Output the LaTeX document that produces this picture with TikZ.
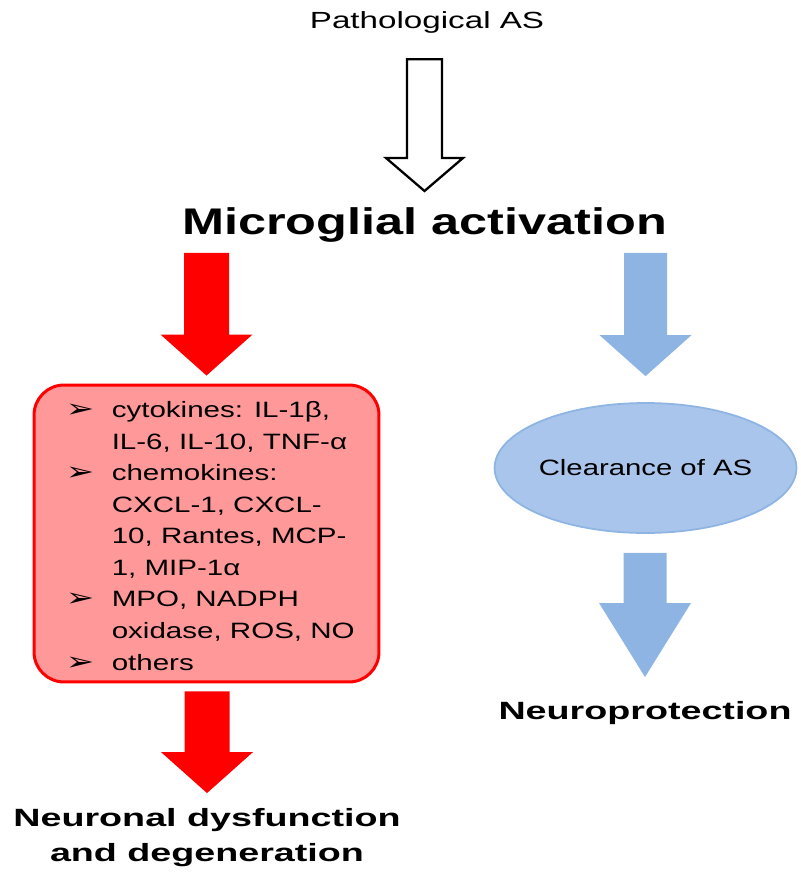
\documentclass[tikz,border=0pt]{standalone}
\usepackage{fontspec}
\setmainfont{Liberation Sans}
\newfontfamily\dingfont{DejaVu Sans}
\usepackage{graphicx}
\usetikzlibrary{calc, positioning, shapes.geometric}

\definecolor{boxred}{HTML}{FF9999}
\definecolor{arrowblue}{HTML}{8EB4E3}
\definecolor{ovalblue}{HTML}{A9C5EB}

\newcommand{\wide}[2]{\scalebox{#1}[1]{#2}}
\newcommand{\tip}{{\dingfont\fontsize{14.5}{14.5}\selectfont ➢}}

% style, from (y), to (x and tip), shaft half width, head half width, head length
\newcommand{\blockarrow}[6]{%
  \path [#1] let \p1 = (#2), \p2 = (#3) in
    (\x2-#4, \y1) -- (\x2-#4, \y2+#6) -- (\x2-#5, \y2+#6) -- (\x2, \y2)
    -- (\x2+#5, \y2+#6) -- (\x2+#4, \y2+#6) -- (\x2+#4, \y1) -- cycle;}

\tikzset{
  hollow/.style={draw=black, fill=white, line width=1.3pt, line join=miter},
  redarrow/.style={fill=red},
  bluearrow/.style={fill=arrowblue},
  boldlabel/.style={inner sep=0pt, font=\bfseries\fontsize{14.2}{19.8}\selectfont}
}

\begin{document}
\begin{tikzpicture}[x=0.02cm, y=0.02cm]
\useasboundingbox (0,0) rectangle (800,-884);

\node [inner sep=0pt, anchor=base, font=\fontsize{13.3}{16}\selectfont] (path) at (427,-28.5) {\wide{1.42}{Pathological AS}};

\node [inner sep=0pt, anchor=base, font=\bfseries\fontsize{21.1}{25}\selectfont] (micro) at (424.5,-235) {\wide{1.36}{Microglial activation}};

\node [draw=red, line width=1.7pt, fill=boxred, rounded corners=0.6cm, minimum width=6.9cm, minimum height=5.94cm, inner sep=0pt] (box) at (206.5,-533.5) {};

\node [inner sep=0pt, anchor=base west, font=\fontsize{12.64}{17.97}\selectfont] (list) at ($(box.north west)+(33,-34)$) {\wide{1.33}{%
	\begin{tabular}[t]{@{}p{0.69cm}@{}l@{}}
	\tip & cytokines: IL-1β, \\
	     & IL-6, IL-10, TNF-α \\
	\tip & chemokines: \\
	     & CXCL-1, CXCL- \\
	     & 10, Rantes, MCP- \\
	     & 1, MIP-1α \\
	\tip & MPO, NADPH \\
	     & oxidase, ROS, NO \\
	\tip & others
	\end{tabular}}};

\node [ellipse, draw=arrowblue, line width=1pt, fill=ovalblue, minimum width=5.34cm, minimum height=2.6cm, inner sep=0pt, font=\fontsize{12.64}{15}\selectfont] (clear) at (645.5,-468) {\wide{1.32}{Clearance of AS}};

\node [boldlabel, anchor=base] (prot) at (645,-719.3) {\wide{1.51}{Neuroprotection}};

\node [boldlabel, align=center] (dys) at (207,-837.5) {\wide{1.51}{Neuronal dysfunction} \\ \wide{1.51}{and degeneration}};

\blockarrow{hollow}{$(path.base)+(0,-30.7)$}{$(micro.base)+(0,44)$}{0.35cm}{0.77cm}{0.66cm}
\blockarrow{redarrow}{$(micro.base)+(0,-18)$}{$(box.north)+(0,8)$}{0.45cm}{0.92cm}{0.82cm}
\blockarrow{bluearrow}{$(micro.base)+(0,-18)$}{$(clear.north)+(0,26)$}{0.43cm}{0.92cm}{0.82cm}
\blockarrow{bluearrow}{$(clear.south)+(0,-19)$}{$(prot.base)+(0,42.3)$}{0.43cm}{0.92cm}{1.48cm}
\blockarrow{redarrow}{$(box.south)+(0,-8)$}{$(dys.north)+(0,15)$}{0.45cm}{0.92cm}{0.82cm}

\end{tikzpicture}
\end{document}
